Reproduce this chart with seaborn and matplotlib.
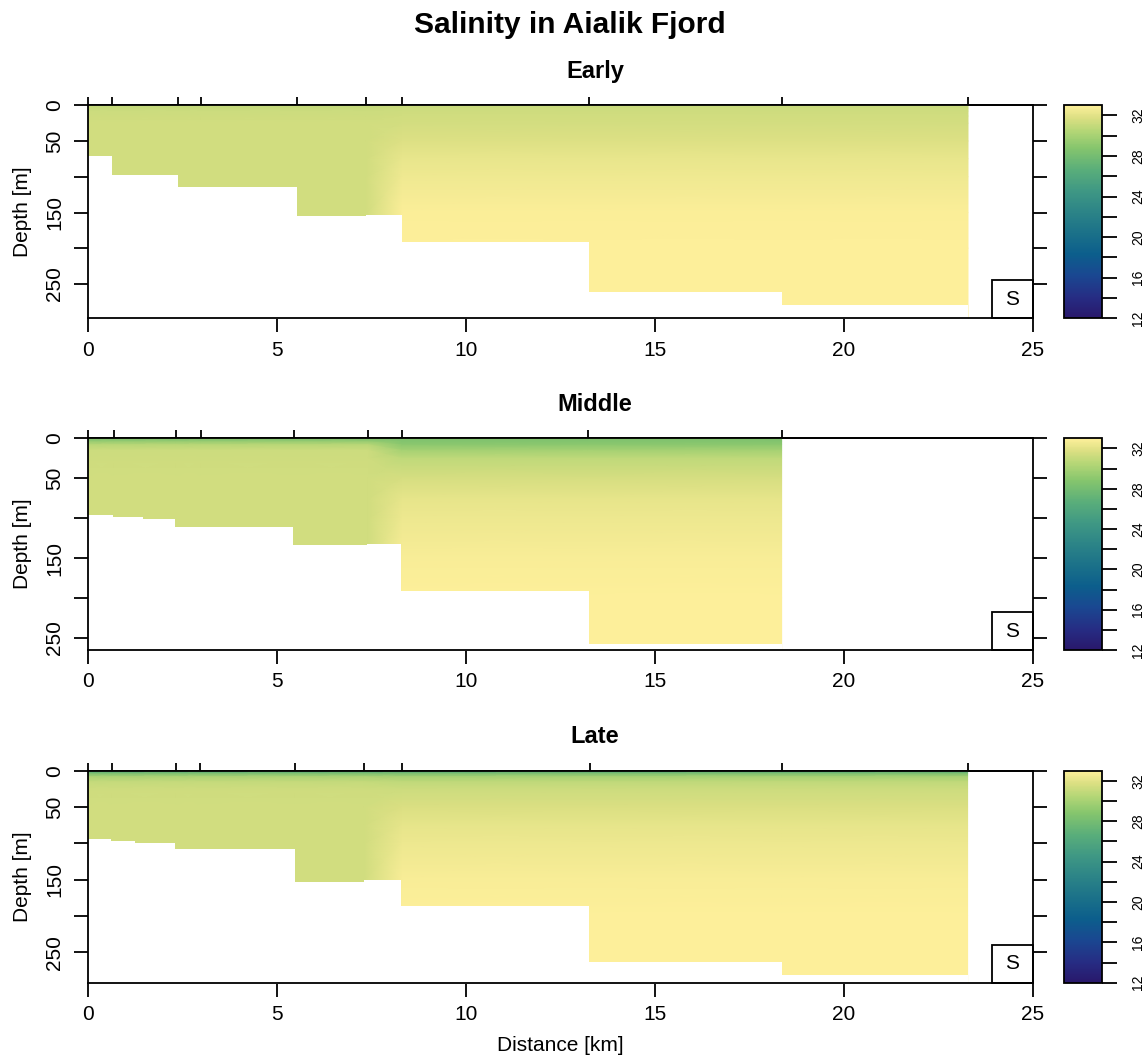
import numpy as np
import matplotlib
matplotlib.use("Agg")
import matplotlib.pyplot as plt
import seaborn as sns
from matplotlib.colors import LinearSegmentedColormap
from matplotlib.patches import Rectangle

sns.set_theme(style="ticks", rc={"axes.edgecolor": "black", "text.color": "black",
                                  "xtick.color": "black", "ytick.color": "black",
                                  "axes.labelcolor": "black"})
plt.rcParams['font.family'] = ['Liberation Sans', 'DejaVu Sans']

# ---------------- data ----------------
main_title = "Salinity in Aialik Fjord"
panel_titles = ["Early", "Middle", "Late"]
x_label = "Distance [km]"
y_label = "Depth [m]"

depth_levels = [0, 4, 8, 15, 25, 50, 75, 100, 150, 200, 300]

# station distances (km)
early_stations = [0, 0.63, 2.37, 3.0, 5.52, 7.35, 8.3, 13.25, 18.35, 23.28]
middle_stations = [0, 0.70, 2.33, 3.0, 5.45, 7.41, 8.3, 13.22, 18.35]
late_stations = [0, 0.64, 2.33, 2.96, 5.48, 7.3, 8.3, 13.28, 18.37, 23.27]

# which profile each station carries (inner fjord / outer fjord)
early_profile_of_station = ["inner"] * 6 + ["outer"] * 4
middle_profile_of_station = ["inner"] * 6 + ["outer"] * 3
late_profile_of_station = ["inner"] * 6 + ["outer"] * 4

# salinity profiles at depth_levels
early_inner = [30.9, 31.1, 31.2, 31.3, 31.4, 31.4, 31.4, 31.4, 31.4, 31.4, 31.4]
early_outer = [31.1, 31.2, 31.3, 31.4, 31.5, 31.8, 32.2, 32.5, 32.85, 32.95, 32.95]
middle_inner = [28.4, 29.4, 30.6, 31.2, 31.3, 31.4, 31.4, 31.4, 31.4, 31.4, 31.4]
middle_outer = [28.5, 28.7, 29.0, 29.9, 30.8, 31.6, 32.1, 32.4, 32.8, 32.95, 32.95]
late_inner = [26.0, 28.4, 30.1, 31.0, 31.3, 31.4, 31.4, 31.4, 31.4, 31.4, 31.4]
late_outer = [26.1, 28.4, 29.9, 30.8, 31.2, 31.7, 32.1, 32.4, 32.8, 32.95, 32.95]

# bottom profile (step starts + final end, depth of each step)
early_bottom_x = [0, 0.63, 2.37, 5.52, 7.35, 8.3, 13.25, 18.35, 23.28]
early_bottom_depth = [71, 97, 114, 155, 153, 191, 261, 280]
middle_bottom_x = [0, 0.67, 1.45, 2.3, 5.42, 7.39, 8.28, 13.25, 18.35]
middle_bottom_depth = [96, 98, 101, 111, 133, 132, 191, 258]
late_bottom_x = [0, 0.62, 1.24, 2.3, 5.48, 7.3, 8.28, 13.25, 18.35, 23.28]
late_bottom_depth = [94, 97, 100, 108, 153, 150, 186, 263, 282]

depth_limits = [298, 265, 292]

x_ticks = [0, 5, 10, 15, 20, 25]
y_ticks = [0, 50, 100, 150, 200, 250]
y_ticklabels = ["0", "50", "", "150", "", "250"]
cbar_ticks = [12, 14, 16, 18, 20, 22, 24, 26, 28, 30, 32]
cbar_ticklabels = ["12", "", "16", "", "20", "", "24", "", "28", "", "32"]
salinity_range = (12, 33)
station_label = "S"

# haline-like colormap
haline_colors = ["#29186b", "#262d84", "#1a4791", "#0c5e8c", "#1b7189", "#2c8487",
                 "#3f9884", "#5aae7a", "#85c56d", "#b4d676", "#dadf82", "#fdef9a"]
haline_pos = [0.0, 0.1, 0.2, 0.3, 0.4, 0.5, 0.6, 0.7, 0.8, 0.88, 0.94, 1.0]
haline = LinearSegmentedColormap.from_list("haline", list(zip(haline_pos, haline_colors)))

panels = [
    (early_stations, early_profile_of_station, early_inner, early_outer, early_bottom_x, early_bottom_depth),
    (middle_stations, middle_profile_of_station, middle_inner, middle_outer, middle_bottom_x, middle_bottom_depth),
    (late_stations, late_profile_of_station, late_inner, late_outer, late_bottom_x, late_bottom_depth),
]

# ---------------- layout ----------------
W, H = 1145, 1059
fig = plt.figure(figsize=(W / 100, H / 100), dpi=100)
ax_left, ax_right = 88, 1033
cb_left, cb_right = 1064, 1102
panel_tops = [105.3, 438.3, 770.7]
panel_bottoms = [318.3, 650.0, 982.7]
LW = 1.3

for i, (stations, ptype, inner, outer, bx, bd) in enumerate(panels):
    top, bot = panel_tops[i], panel_bottoms[i]
    rect = [ax_left / W, 1 - bot / H, (ax_right - ax_left) / W, (bot - top) / H]
    ax = fig.add_axes(rect)
    cax = fig.add_axes([cb_left / W, 1 - bot / H, (cb_right - cb_left) / W, (bot - top) / H])

    profiles = {"inner": inner, "outer": outer}
    Z = np.array([profiles[p] for p in ptype]).T
    X, Y = np.meshgrid(stations, depth_levels)
    mesh = ax.pcolormesh(X, Y, Z, cmap=haline, vmin=salinity_range[0], vmax=salinity_range[1],
                         shading="gouraud", zorder=1)

    ymax = depth_limits[i]
    ax.fill_between(bx, list(bd) + [bd[-1]], ymax + 10, step="post", color="white",
                    lw=0, zorder=1.5)

    ax.set_xlim(0, 25)
    ax.set_ylim(ymax, 0)
    ax.set_xticks(x_ticks)
    ax.set_yticks(y_ticks)
    ax.set_yticklabels(y_ticklabels)
    for s in ax.spines.values():
        s.set_linewidth(LW)
        s.set_color("black")
        s.set_visible(True)
    ax.tick_params(axis="both", direction="out", length=10, width=LW, labelsize=15)
    ax.tick_params(axis="y", right=True, labelrotation=90, pad=7)
    ax.tick_params(axis="x", pad=6)
    for lbl in ax.get_yticklabels():
        lbl.set_va("center")

    sec = ax.secondary_xaxis("top")
    sec.set_xticks(stations)
    sec.set_xticklabels([])
    sec.tick_params(direction="out", length=6, width=LW)
    sec.spines["top"].set_linewidth(LW)

    ax.set_ylabel(y_label, fontsize=15, va="center")
    ax.yaxis.set_label_coords((23 - ax_left) / (ax_right - ax_left), 0.5)

    bw, bh = 0.0437, 0.178
    ax.add_patch(Rectangle((1 - bw, 0), bw, bh, transform=ax.transAxes, fill=False,
                           ec="black", lw=LW, zorder=3, clip_on=False))
    ax.text(1 - bw / 2, bh / 2, station_label, transform=ax.transAxes, ha="center",
            va="center", fontsize=15, zorder=4)

    cb = fig.colorbar(mesh, cax=cax, ticks=cbar_ticks)
    cb.set_ticklabels(cbar_ticklabels)
    cb.outline.set_linewidth(LW)
    cb.outline.set_edgecolor("black")
    cax.tick_params(direction="out", length=11, width=LW, labelsize=10, pad=10,
                    labelrotation=90)
    for lbl in cax.get_yticklabels():
        lbl.set_va("center")

    fig.text(595 / W, 1 - (top - 27.3) / H, panel_titles[i], ha="center", va="baseline",
             fontsize=17, fontweight="bold")

    if i == 2:
        ax.set_xlabel(x_label, fontsize=15)
        ax.xaxis.set_label_coords(0.5, -(1036 - bot) / (bot - top))

fig.text(570 / W, 1 - 33.3 / H, main_title, ha="center", va="baseline", fontsize=21.5,
         fontweight="bold")

fig.savefig("out.png", dpi=100)
